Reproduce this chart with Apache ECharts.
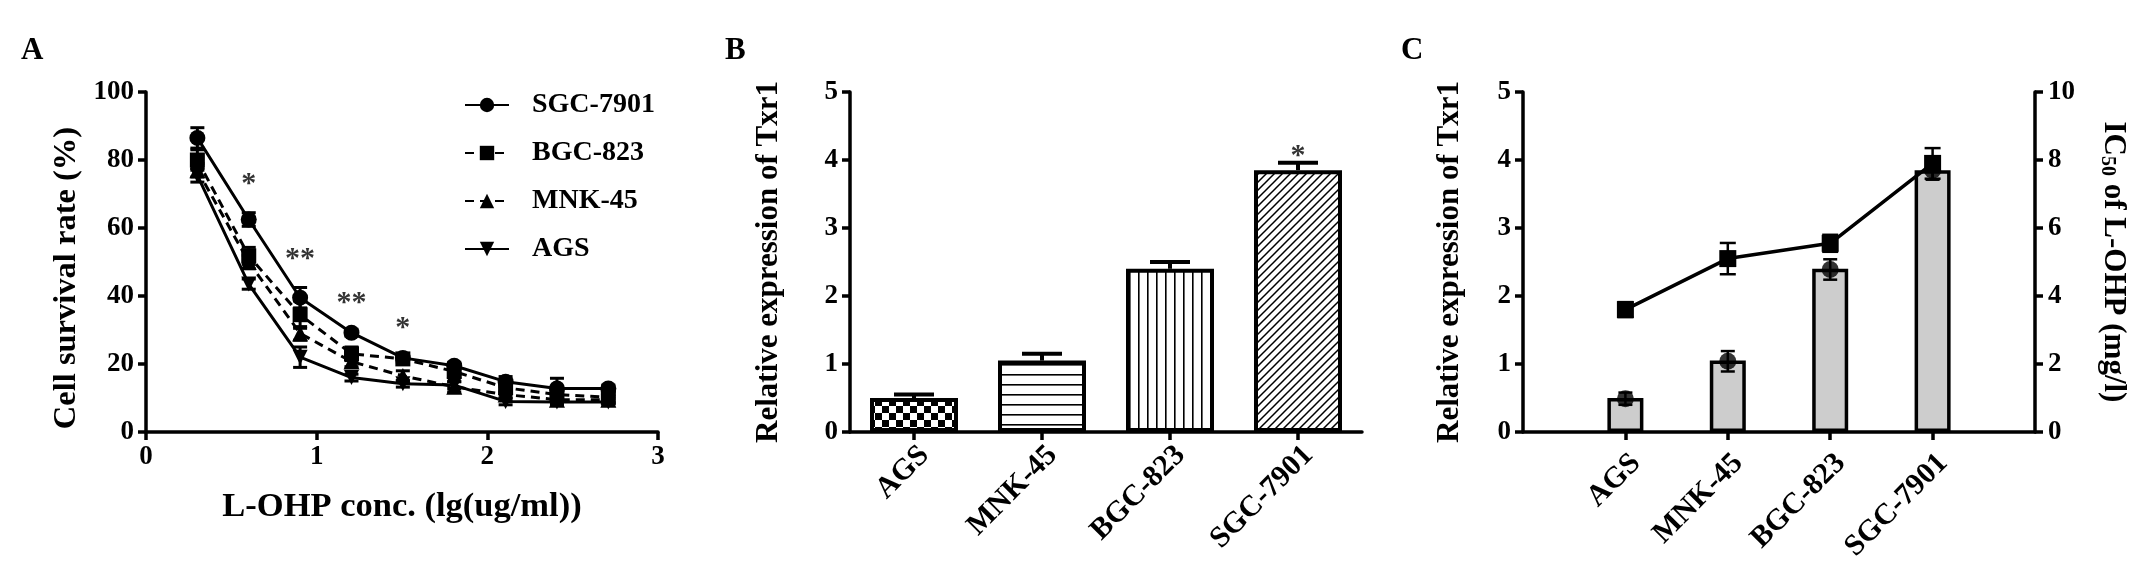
<!DOCTYPE html>
<html><head><meta charset="utf-8">
<script src="https://cdn.jsdelivr.net/npm/echarts@6/dist/echarts.min.js"></script>
<style>html,body{margin:0;padding:0;background:#fff}#c{width:2140px;height:577px}</style>
</head><body><div id="c"></div><script>
// ---------- Panel A data ----------
const concX = [0.301, 0.602, 0.903, 1.204, 1.505, 1.806, 2.107, 2.408, 2.709];
const sgcSurv = [86.5, 62.5, 39.5, 29.2, 21.8, 19.5, 14.8, 12.8, 12.8];
const sgcErr  = [3, 2, 3, 1, 1, 1, 1.5, 3, 1];
const bgcSurv = [80, 51.8, 34.5, 23, 21.5, 17.8, 13, 11, 10.2];
const bgcErr  = [3, 2.5, 4, 2, 1, 1, 1.5, 2, 1.5];
const mnkSurv = [77, 50, 29, 20.7, 16.5, 13.3, 11, 9.5, 9.5];
const mnkErr  = [2, 2, 2, 1.5, 1.5, 1.5, 1, 1, 1];
const agsSurv = [75.5, 43.5, 22, 16, 14.2, 13.8, 9, 8.8, 8.8];
const agsErr  = [2, 1.5, 3, 1, 1, 1, 1, 1, 1];
const starTextA = ['*', '**', '**', '*'];
const starXA = [0.602, 0.903, 1.204, 1.505];
const starYA = [75, 53, 40, 32.5];
const xTicksA = [0, 1, 2, 3];

// ---------- Panel B data ----------
const cellLines = ['AGS', 'MNK-45', 'BGC-823', 'SGC-7901'];
const txrExpr = [0.5, 1.05, 2.4, 3.85];
const txrErr  = [0.05, 0.1, 0.1, 0.11];
const starB = [{ idx: 3, y: 4.16, text: '*' }];

// ---------- Panel C data ----------
const cCats = ['', 'AGS', 'MNK-45', 'BGC-823', 'SGC-7901', ''];
const cBars = [0.5, 1.05, 2.4, 3.85];
const cCirc = [0.49, 1.04, 2.39, 3.85];
const cCircErr = [0.09, 0.15, 0.15, 0.14];
const ic50 = [3.6, 5.1, 5.55, 7.9];
const ic50Err = [0.22, 0.46, 0.25, 0.45];

const FF = '"Liberation Serif","Times New Roman",serif';
const AXW = 3.5;

function pattern(kind) {
  const c = document.createElement('canvas');
  const g = c.getContext('2d');
  if (kind === 'checker') {
    c.width = 14; c.height = 14;
    g.fillStyle = '#fff'; g.fillRect(0, 0, 14, 14);
    g.fillStyle = '#000'; g.fillRect(0, 0, 7, 7); g.fillRect(7, 7, 7, 7);
  } else if (kind === 'hline') {
    c.width = 10; c.height = 10;
    g.fillStyle = '#fff'; g.fillRect(0, 0, 10, 10);
    g.fillStyle = '#000'; g.fillRect(0, 4, 10, 1.6);
  } else if (kind === 'vline') {
    c.width = 9; c.height = 9;
    g.fillStyle = '#fff'; g.fillRect(0, 0, 9, 9);
    g.fillStyle = '#000'; g.fillRect(4, 0, 1.6, 9);
  } else {
    c.width = 8; c.height = 8;
    g.fillStyle = '#fff'; g.fillRect(0, 0, 8, 8);
    g.strokeStyle = '#000'; g.lineWidth = 1.5;
    g.beginPath();
    g.moveTo(-1, 9); g.lineTo(9, -1);
    g.moveTo(-1, 1); g.lineTo(1, -1);
    g.moveTo(7, 9); g.lineTo(9, 7);
    g.stroke();
  }
  return { image: c, repeat: 'repeat' };
}
const patterns = [pattern('checker'), pattern('hline'), pattern('vline'), pattern('diag')];

function makeErr(capW, lw, upperOnly) {
  return function (params, api) {
    const x = api.value(0), y = api.value(1), e = api.value(2);
    const p1 = api.coord([x, y + e]);
    const p0 = api.coord([x, upperOnly ? y : y - e]);
    const st = { stroke: '#000', lineWidth: lw };
    const ch = [
      { type: 'line', shape: { x1: p1[0], y1: p1[1], x2: p0[0], y2: p0[1] }, style: st },
      { type: 'line', shape: { x1: p1[0] - capW / 2, y1: p1[1], x2: p1[0] + capW / 2, y2: p1[1] }, style: st }
    ];
    if (!upperOnly) ch.push({ type: 'line', shape: { x1: p0[0] - capW / 2, y1: p0[1], x2: p0[0] + capW / 2, y2: p0[1] }, style: st });
    return { type: 'group', children: ch };
  };
}

const labelStyle = { color: '#000', fontFamily: FF, fontWeight: 'bold', fontSize: 27 };
const nameStyle = { color: '#000', fontFamily: FF, fontWeight: 'bold', fontSize: 31 };
function ax(extra) {
  return Object.assign({
    axisLine: { show: true, onZero: false, lineStyle: { color: '#000', width: AXW } },
    axisTick: { show: true, length: 8, lineStyle: { color: '#000', width: AXW } },
    axisLabel: Object.assign({ margin: 12 }, labelStyle),
    splitLine: { show: false },
    nameTextStyle: nameStyle,
    nameLocation: 'middle'
  }, extra);
}
const catLabel = (m) => Object.assign({ rotate: 45, interval: 0, margin: m, verticalAlign: 'top' }, labelStyle, { fontSize: 30 });

const zip = (xs, ys, es) => xs.map((x, i) => es ? [x, ys[i], es[i]] : [x, ys[i]]);
const agsPath = 'path://M0,0L20,0L10,17Z';

const seriesA = [
  { name: 'SGC-7901', data: sgcSurv, err: sgcErr, symbol: 'circle', size: 16, dash: 'solid' },
  { name: 'BGC-823', data: bgcSurv, err: bgcErr, symbol: 'rect', size: 15, dash: [9, 6] },
  { name: 'MNK-45', data: mnkSurv, err: mnkErr, symbol: 'triangle', size: 16, dash: [9, 6] },
  { name: 'AGS', data: agsSurv, err: agsErr, symbol: agsPath, size: 15, dash: 'solid' }
];

const series = [];
seriesA.forEach(s => {
  series.push({
    type: 'custom', xAxisIndex: 0, yAxisIndex: 0, z: 2, silent: true,
    renderItem: makeErr(14, 3, false), encode: { x: 0, y: 1 },
    data: zip(concX, s.data, s.err)
  });
});
seriesA.forEach(s => {
  series.push({
    type: 'line', name: s.name, xAxisIndex: 0, yAxisIndex: 0, z: 3,
    data: zip(concX, s.data), symbol: s.symbol, symbolSize: s.size,
    showAllSymbol: true,
    lineStyle: { color: '#000', width: 3, type: s.dash },
    itemStyle: { color: '#000' }
  });
});
series.push({
  type: 'scatter', xAxisIndex: 0, yAxisIndex: 0, z: 4, symbolSize: 1,
  itemStyle: { color: 'transparent' },
  data: starXA.map((x, i) => [x, starYA[i], starTextA[i]]),
  label: { show: true, position: 'inside', offset: [0, 7], formatter: p => p.value[2],
    color: '#000', fontFamily: FF, fontWeight: 'bold', fontSize: 30 }
});

// Panel B
series.push({
  type: 'bar', xAxisIndex: 1, yAxisIndex: 1, barWidth: 88, z: 2,
  data: txrExpr.map((v, i) => ({ value: v, itemStyle: { color: patterns[i] } })),
  itemStyle: { borderColor: '#000', borderWidth: 4 }
});
series.push({
  type: 'custom', xAxisIndex: 1, yAxisIndex: 1, z: 1, silent: true,
  renderItem: makeErr(40, 4, true), encode: { x: 0, y: 1 },
  data: cellLines.map((c, i) => [i, txrExpr[i], txrErr[i]])
});
series.push({
  type: 'scatter', xAxisIndex: 1, yAxisIndex: 1, symbolSize: 1,
  itemStyle: { color: 'transparent' },
  data: starB.map(s => [s.idx, s.y, s.text]),
  label: { show: true, position: 'inside', offset: [0, 7], formatter: p => p.value[2],
    color: '#000', fontFamily: FF, fontWeight: 'bold', fontSize: 30 }
});

// Panel C
series.push({
  type: 'bar', xAxisIndex: 2, yAxisIndex: 2, barWidth: 36, z: 2,
  data: [null].concat(cBars, [null]),
  itemStyle: { color: '#cdcdcd', borderColor: '#000', borderWidth: 3.5 }
});
series.push({
  type: 'custom', xAxisIndex: 2, yAxisIndex: 2, z: 3, silent: true,
  renderItem: makeErr(14, 2.5, false), encode: { x: 0, y: 1 },
  data: cCirc.map((v, i) => [i + 1, v, cCircErr[i]])
});
series.push({
  type: 'scatter', xAxisIndex: 2, yAxisIndex: 2, z: 4, symbol: 'circle', symbolSize: 17,
  itemStyle: { color: '#000' },
  data: cCirc.map((v, i) => [i + 1, v])
});
series.push({
  type: 'custom', xAxisIndex: 2, yAxisIndex: 3, z: 5, silent: true,
  renderItem: makeErr(16, 2.5, false), encode: { x: 0, y: 1 },
  data: ic50.map((v, i) => [i + 1, v, ic50Err[i]])
});
series.push({
  type: 'line', xAxisIndex: 2, yAxisIndex: 3, z: 6, symbol: 'rect', symbolSize: 17,
  lineStyle: { color: '#000', width: 3.5 }, itemStyle: { color: '#000' },
  data: ic50.map((v, i) => [i + 1, v])
});

const option = {
  animation: false,
  backgroundColor: '#fff',
  grid: [
    { left: 146, top: 92, width: 512, height: 340, outerBoundsMode: 'none' },
    { left: 850, top: 92, width: 512, height: 340, outerBoundsMode: 'none' },
    { left: 1523, top: 92, width: 512, height: 340, outerBoundsMode: 'none' }
  ],
  legend: {
    data: seriesA.map(s => s.name), orient: 'vertical', left: 459, top: 85,
    itemWidth: 44, itemHeight: 18, itemGap: 18,
    textStyle: { color: '#000', fontFamily: FF, fontWeight: 'bold', fontSize: 28, lineHeight: 30, padding: [0, 0, 0, 18] }
  },
  xAxis: [
    ax({ gridIndex: 0, type: 'value', min: xTicksA[0], max: xTicksA[xTicksA.length - 1], interval: 1,
      name: 'L-OHP conc. (lg(ug/ml))', nameGap: 58,
      nameTextStyle: Object.assign({}, nameStyle, { fontSize: 34.5 }) }),
    ax({ gridIndex: 1, type: 'category', data: cellLines,
      axisTick: { show: true, alignWithLabel: true, length: 8, lineStyle: { color: '#000', width: AXW } },
      axisLabel: catLabel(8) }),
    ax({ gridIndex: 2, type: 'category', data: cCats, boundaryGap: false,
      axisTick: { show: true, length: 8, interval: (i, v) => v !== '', lineStyle: { color: '#000', width: AXW } },
      axisLabel: catLabel(16) })
  ],
  yAxis: [
    ax({ gridIndex: 0, type: 'value', min: 0, max: 100, interval: 20, name: 'Cell survival rate (%)', nameRotate: 90, nameGap: 63,
      nameTextStyle: Object.assign({}, nameStyle, { fontSize: 32.5, padding: [0, 32, 0, 0] }) }),
    ax({ gridIndex: 1, type: 'value', min: 0, max: 5, interval: 1, name: 'Relative expression of Txr1', nameRotate: 90, nameGap: 66 }),
    ax({ gridIndex: 2, type: 'value', min: 0, max: 5, interval: 1, name: 'Relative expression of Txr1', nameRotate: 90, nameGap: 58 }),
    ax({ gridIndex: 2, type: 'value', position: 'right', min: 0, max: 10, interval: 2, nameRotate: -90, nameGap: 62,
      axisLabel: Object.assign({ margin: 13 }, labelStyle),
      name: '{a|IC}{b|50}{a| of L-OHP (mg/l)}',
      nameTextStyle: Object.assign({}, nameStyle, { rich: {
        a: { fontFamily: FF, fontWeight: 'bold', fontSize: 31, color: '#000' },
        b: { fontFamily: FF, fontWeight: 'bold', fontSize: 20, color: '#000', padding: [12, 0, 0, 0] } } }) })
  ],
  graphic: [
    { type: 'text', left: 21, top: 35, style: { text: 'A', fill: '#000', font: 'bold 31px ' + FF } },
    { type: 'text', left: 725, top: 35, style: { text: 'B', fill: '#000', font: 'bold 31px ' + FF } },
    { type: 'text', left: 1401, top: 35, style: { text: 'C', fill: '#000', font: 'bold 31px ' + FF } }
  ],
  series: series
};

const chart = echarts.init(document.getElementById('c'), null, { renderer: 'canvas' });
chart.setOption(option);
</script></body></html>
